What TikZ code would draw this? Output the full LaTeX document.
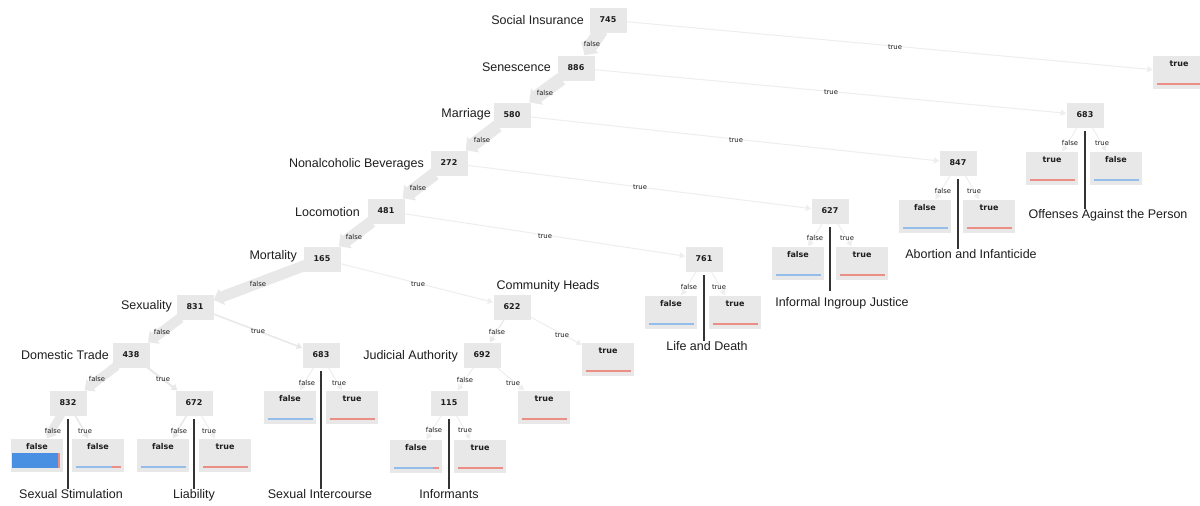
\documentclass[tikz,border=0pt]{standalone}
\usepackage{fontspec}
\setmainfont{Liberation Sans}
\newfontfamily\vfont{DejaVu Sans}
\usetikzlibrary{arrows.meta,backgrounds}
\definecolor{boxgray}{HTML}{E8E8E8}
\definecolor{thingray}{HTML}{EEEEEE}
\definecolor{barblue}{HTML}{4A90E2}
\definecolor{lineblue}{HTML}{94BEEA}
\definecolor{linered}{HTML}{EB8E86}
\definecolor{splitcol}{HTML}{333333}
\definecolor{txt}{HTML}{1E1E1E}
\tikzset{
  inner/.style={fill=boxgray, minimum width=37pt, minimum height=25pt, inner sep=0pt, text=txt,
    font=\vfont\bfseries\fontsize{8}{9}\selectfont, text height=5.8pt, text depth=0pt},
  leafbox/.style={fill=boxgray, minimum width=52pt, minimum height=33pt, inner sep=0pt},
  leaftext/.style={inner sep=0pt, text=txt, font=\vfont\bfseries\fontsize{8}{9}\selectfont, text height=6pt, text depth=0pt},
  feat/.style={inner sep=0pt, text=txt, font=\fontsize{12.5}{14}\selectfont, text height=9pt, text depth=2.7pt},
  elab/.style={inner sep=0pt, text=txt, font=\vfont\fontsize{6.8}{8}\selectfont, text height=5pt, text depth=0pt},
  band/.style={draw=boxgray, line width=#1, shorten <=-3pt, -{Triangle[length=5pt 0.35, width=5pt 1.1]}},
  thinedge/.style={draw=thingray, line width=1pt, -{Triangle[length=5.5pt, width=6pt]}},
  splitbar/.style={draw=splitcol, line width=2.8pt},
}
\newcommand{\leafnode}[5]{%
  \node[leafbox] (#1) at (#2,#3) {};
  \node[leaftext] (#1t) at ([yshift=-8pt]#1.north) {#4};
  \ifdim #5pt>0pt \draw[lineblue,line width=2pt] ([xshift=4pt,yshift=5pt]#1.south west) -- ([xshift={4pt+#5*45pt},yshift=5pt]#1.south west);\fi
  \ifdim #5pt<1pt \draw[linered,line width=2pt] ([xshift={4pt+#5*45pt},yshift=5pt]#1.south west) -- ([xshift=-3pt,yshift=5pt]#1.south east);\fi
}
\begin{document}
\begin{tikzpicture}[x=1pt,y=-1pt]
\useasboundingbox (0,0) rectangle (1200,506);

% internal nodes
\node[inner] (n745) at (608,20) {745};
\node[inner] (n886) at (576,68) {886};
\node[inner] (n580) at (512,115) {580};
\node[inner] (n272) at (449,163) {272};
\node[inner] (n481) at (386,211) {481};
\node[inner] (n165) at (322,259) {165};
\node[inner] (n831) at (195,307) {831};
\node[inner] (n438) at (131,355) {438};
\node[inner] (n832) at (68,403) {832};
\node[inner] (n672) at (194,403) {672};
\node[inner] (n683a) at (321,355) {683};
\node[inner] (n622) at (512,307) {622};
\node[inner] (n692) at (482,355) {692};
\node[inner] (n115) at (449,403) {115};
\node[inner] (n761) at (704,259) {761};
\node[inner] (n627) at (830,211) {627};
\node[inner] (n847) at (958,163) {847};
\node[inner] (n683b) at (1085,115) {683};

% leaves
\leafnode{L745t}{1179}{72}{true}{0}
\leafnode{L683bf}{1052}{168}{true}{0}
\leafnode{L683bt}{1116}{168}{false}{1}
\leafnode{L847f}{925}{216}{false}{1}
\leafnode{L847t}{989}{216}{true}{0}
\leafnode{L627f}{798}{263}{false}{1}
\leafnode{L627t}{862}{263}{true}{0}
\leafnode{L761f}{671}{312}{false}{1}
\leafnode{L761t}{735}{312}{true}{0}
\leafnode{L622t}{608}{359}{true}{0}
\leafnode{L692t}{544}{407}{true}{0}
\leafnode{L683af}{290}{407}{false}{1}
\leafnode{L683at}{352}{407}{true}{0}
\leafnode{L115f}{416}{456}{false}{0.86}
\leafnode{L115t}{480}{456}{true}{0}
\leafnode{L832t}{98}{455}{false}{0.8}
\leafnode{L672f}{163}{455}{false}{1}
\leafnode{L672t}{225}{455}{true}{0}
\node[leafbox] (L832f) at (37,455) {};
\node[leaftext] (L832ft) at ([yshift=-8pt]L832f.north) {false};
\fill[barblue] ([xshift=1pt,yshift=4pt]L832f.south west) rectangle ([xshift=47.5pt,yshift=19pt]L832f.south west);
\fill[linered] ([xshift=47.5pt,yshift=4pt]L832f.south west) rectangle ([xshift=49pt,yshift=19pt]L832f.south west);

% feature labels
\node[feat,anchor=base east] (f745) at (584,24) {Social Insurance};
\node[feat,anchor=base east] (f886) at (551,71.5) {Senescence};
\node[feat,anchor=base east] (f580) at (491,117.5) {Marriage};
\node[feat,anchor=base east] (f272) at (424,167) {Nonalcoholic Beverages};
\node[feat,anchor=base east] (f481) at (360,216) {Locomotion};
\node[feat,anchor=base east] (f165) at (297,259.5) {Mortality};
\node[feat,anchor=base east] (f831) at (172,309.5) {Sexuality};
\node[feat,anchor=base east] (f438) at (109,359) {Domestic Trade};
\node[feat,anchor=base east] (f692) at (458,359) {Judicial Authority};
\node[feat,anchor=base] (f622) at (548,289) {Community Heads};

% split labels
\node[feat,anchor=base] (b832) at (71,498) {Sexual Stimulation};
\node[feat,anchor=base] (b672) at (194,498) {Liability};
\node[feat,anchor=base] (b683a) at (320,498) {Sexual Intercourse};
\node[feat,anchor=base] (b115) at (449,498) {Informants};
\node[feat,anchor=base] (b761) at (707,350.5) {Life and Death};
\node[feat,anchor=base] (b627) at (842,306) {Informal Ingroup Justice};
\node[feat,anchor=base] (b847) at (971,258.5) {Abortion and Infanticide};
\node[feat,anchor=base] (b683b) at (1108,218.5) {Offenses Against the Person};

% edge labels
\foreach \n/\x/\y/\t in {e1/592/44/false, e2/895/47/true, e3/545/93/false, e4/831/92/true,
  e5/482/140/false, e6/736/140/true, e7/418/188/false, e8/640/187/true,
  e9/354/237/false, e10/545/236/true, e11/258/284/false, e12/418/284/true,
  e13/162/332/false, e14/258/331/true, e15/97/379/false, e16/163/379/true,
  e17/53/431/false, e18/85/431/true, e19/179/431/false, e20/209/431/true,
  e21/307/383/false, e22/339/383/true, e23/497/332/false, e24/562/335/true,
  e25/465/380/false, e26/513/383/true, e27/434/430/false, e28/465/430/true,
  e29/689/287/false, e30/719/287/true, e31/815/238/false, e32/847/238/true,
  e33/943/191/false, e34/974/191/true, e35/1070/143/false, e36/1102/143/true}
  \node[elab] (\n) at (\x,\y) {\t};

% split bars
\draw[splitbar] ([yshift=-3.5pt]n832.south) -- (n832 |- b832.north);
\draw[splitbar] ([yshift=-3.5pt]n672.south) -- (n672 |- b672.north);
\draw[splitbar] ([yshift=-3.5pt]n683a.south) -- (n683a |- b683a.north);
\draw[splitbar] ([yshift=-3.5pt]n115.south) -- (n115 |- b115.north);
\draw[splitbar] ([yshift=-3.5pt]n761.south) -- (n761 |- b761.north);
\draw[splitbar] ([yshift=-3.5pt]n627.south) -- ([yshift=6pt]n627 |- b627.north);
\draw[splitbar] ([yshift=-3.5pt]n847.south) -- (n847 |- b847.north);
\draw[splitbar] ([yshift=-3.5pt]n683b.south) -- (n683b |- b683b.north);

% edges
\begin{pgfonlayer}{background}
\fill[white] (0,0) rectangle (1200,506);
\draw[band=14pt] (n745) -- (n886);
\draw[thinedge] (n745) -- (L745t);
\draw[band=13.5pt] (n886) -- (n580);
\draw[thinedge] (n886) -- (n683b);
\draw[band=13pt] (n580) -- (n272);
\draw[thinedge] (n580) -- (n847);
\draw[band=13pt] (n272) -- (n481);
\draw[thinedge] (n272) -- (n627);
\draw[band=12pt] (n481) -- (n165);
\draw[thinedge] (n481) -- (n761);
\draw[band=11pt] (n165) -- (n831);
\draw[thinedge] (n165) -- (n622);
\draw[band=10pt] (n831) -- (n438);
\draw[band=1.5pt] (n831) -- (n683a);
\draw[band=9pt] (n438) -- (n832);
\draw[band=2pt] (n438) -- (n672);
\draw[band=8pt] (n832) -- (L832f);
\draw[band=1.5pt] (n832) -- (L832t);
\draw[band=1.5pt] (n672) -- (L672f);
\draw[thinedge] (n672) -- (L672t);
\draw[thinedge] (n683a) -- (L683af);
\draw[thinedge] (n683a) -- (L683at);
\draw[band=1.2pt] (n622) -- (n692);
\draw[thinedge] (n622) -- (L622t);
\draw[thinedge] (n692) -- (n115);
\draw[thinedge] (n692) -- (L692t);
\draw[thinedge] (n115) -- (L115f);
\draw[thinedge] (n115) -- (L115t);
\draw[thinedge] (n761) -- (L761f);
\draw[thinedge] (n761) -- (L761t);
\draw[thinedge] (n627) -- (L627f);
\draw[thinedge] (n627) -- (L627t);
\draw[thinedge] (n847) -- (L847f);
\draw[thinedge] (n847) -- (L847t);
\draw[thinedge] (n683b) -- (L683bf);
\draw[thinedge] (n683b) -- (L683bt);
\end{pgfonlayer}
\end{tikzpicture}
\end{document}
